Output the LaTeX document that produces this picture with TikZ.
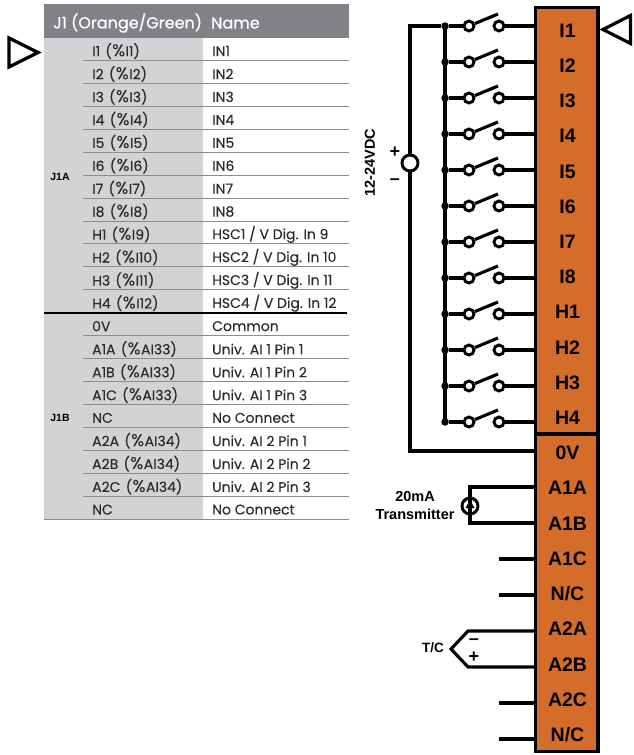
\documentclass[tikz,border=0pt]{standalone}
\usepackage{fontspec}
\setmainfont{Poppins}
\newfontfamily\termfont{Liberation Sans}
\newfontfamily\headfont[FakeBold=0.6]{Poppins}
\newfontfamily\cellfont[FakeBold=0.12]{Poppins}
\newcommand{\pcts}{\hspace{1.5pt}(\kern.5pt{\fontsize{17}{16}\selectfont\%}\kern.5pt}
\definecolor{termorange}{HTML}{D56D2A}
\definecolor{headgray}{HTML}{808285}
\definecolor{colgray}{HTML}{D1D3D4}
\definecolor{rowline}{HTML}{8A8C8E}
\definecolor{tabtext}{HTML}{2B2B2B}
\tikzset{
  wire/.style={line width=3.1pt,black},
  edge/.style={line width=3.2pt,black,line join=miter},
  tabcell/.style={font=\cellfont\fontsize{14}{16}\selectfont,text=tabtext,anchor=west,inner sep=0pt},
  headcell/.style={font=\headfont\fontsize{16}{18}\selectfont,text=white,anchor=west,inner sep=0pt},
  grouplabel/.style={font=\termfont\bfseries\fontsize{10.5}{12}\selectfont,inner sep=0pt},
  termlabel/.style={font=\termfont\bfseries\fontsize{19.5}{22}\selectfont,inner sep=0pt},
  sidelabel/.style={font=\termfont\bfseries\fontsize{14.5}{17}\selectfont,inner sep=0pt},
  signmark/.style={font=\termfont\bfseries\fontsize{18}{20}\selectfont,inner sep=0pt},
  contact/.style={circle,draw=black,line width=2.9pt,fill=white,minimum size=10pt,inner sep=0pt},
  srcsym/.style={circle,draw=black,line width=2.9pt,fill=white,minimum size=16pt,inner sep=0pt},
  jdot/.style={circle,fill=black,minimum size=7.5pt,inner sep=0pt},
}
\begin{document}
\begin{tikzpicture}[x=1pt,y=-1pt]
\useasboundingbox (0,0) rectangle (633,755);
% table
\fill[headgray] (44,4) rectangle (349,38);
\fill[colgray] (44,38) rectangle (203,519);
\node[headcell] (h1) at (53,23) {J1 (Orange/Green)};
\node[headcell] (h2) at (211,23) {Name};
\foreach \i/\a/\b in {1/I1 \pcts I1)/IN1,2/I2 \pcts I2)/IN2,3/I3 \pcts I3)/IN3,4/I4 \pcts I4)/IN4,5/I5 \pcts I5)/IN5,6/I6 \pcts I6)/IN6,7/I7 \pcts I7)/IN7,8/I8 \pcts I8)/IN8,9/H1 \pcts I9)/{HSC1 / V Dig. In 9},10/H2 \pcts I10)/{HSC2 / V Dig. In 10},11/H3 \pcts I11)/{HSC3 / V Dig. In 11},12/H4 \pcts I12)/{HSC4 / V Dig. In 12},13/0V/Common,14/A1A \pcts AI33)/Univ. AI 1 Pin 1,15/A1B \pcts AI33)/Univ. AI 1 Pin 2,16/A1C \pcts AI33)/Univ. AI 1 Pin 3,17/NC/No Connect,18/A2A \pcts AI34)/Univ. AI 2 Pin 1,19/A2B \pcts AI34)/Univ. AI 2 Pin 2,20/A2C \pcts AI34)/Univ. AI 2 Pin 3,21/NC/No Connect}{
  \pgfmathsetmacro{\ty}{51+22.93*(\i-1)}
  \pgfmathsetmacro{\ly}{60.5+22.93*(\i-1)}
  \node[tabcell] (ra\i) at (92,\ty) {\a};
  \node[tabcell] (rb\i) at (212,\ty) {\b};
  \ifnum\i=12\relax
    \draw[line width=1.8pt,black] (44,\ly) -- (347,\ly);
  \else\ifnum\i=21\relax
    \draw[line width=1pt,rowline] (44,\ly) -- (349,\ly);
  \else
    \draw[line width=1pt,rowline] (83,\ly) -- (349,\ly);
  \fi\fi
}
\node[grouplabel] (j1a) at (60,177) {J1A};
\node[grouplabel] (j1b) at (60,418) {J1B};
\coordinate (tl1) at (9,38); \coordinate (tl2) at (38,52.5); \coordinate (tl3) at (9,67);
\draw[edge] (tl1) -- (tl2) -- (tl3) -- cycle;
% terminal block
\node[draw=black,line width=3.2pt,fill=termorange,minimum width=62.5pt,minimum height=744.5pt,inner sep=0pt] (block) at (566.7,379.6) {};
\coordinate (dl) at (535,434); \coordinate (dr) at (598,434);
\draw[edge] (dl) -- (dr);
\coordinate (tr1) at (603,29.5); \coordinate (tr2) at (630.5,15.5); \coordinate (tr3) at (630.5,43.5);
\draw[edge] (tr1) -- (tr2) -- (tr3) -- cycle;
\foreach \k/\t in {0/I1,1/I2,2/I3,3/I4,4/I5,5/I6,6/I7,7/I8,8/H1,9/H2,10/H3,11/H4,12/0V,13/A1A,14/A1B,15/A1C,16/N\slash C,17/A2A,18/A2B,19/A2C,20/N\slash C}{
  \pgfmathsetmacro{\ly}{30.6+35.2*\k}
  \node[termlabel] (t\k) at (567.5,\ly) {\t};
}
% switches
\coordinate (busT) at (445,26);
\coordinate (busB) at (445,422);
\draw[wire] (busT) -- (busB);
\foreach \k in {0,...,11}{
  \pgfmathsetmacro{\wy}{26+36*\k}
  \pgfmathsetmacro{\ty}{\wy-12}
  \coordinate (e\k) at (535,\wy);
  \node[jdot] (d\k) at (445,\wy) {};
  \node[contact] (ca\k) at (469,\wy) {};
  \node[contact] (cb\k) at (499,\wy) {};
  \coordinate (lv\k) at (498,\ty);
  \draw[wire] (d\k) -- (ca\k);
  \draw[wire] (cb\k) -- (e\k);
  \draw[wire] (ca\k) -- (lv\k);
}
% supply
\coordinate (sup0) at (410,26);
\coordinate (sup1) at (410,451);
\coordinate (e0v) at (535,451);
\draw[wire] (d0) -- (sup0) -- (sup1) -- (e0v);
\node[srcsym] (src) at (410,163) {};
\node[sidelabel,rotate=90] (vlab) at (370,162.5) {12-24VDC};
\node[signmark] (plus) at (395,152) {+};
\node[signmark] (minus) at (395,182) {–};
% transmitter
\coordinate (ea) at (535,487); \coordinate (eb) at (535,523);
\coordinate (xa) at (470,487); \coordinate (xb) at (470,523);
\draw[wire] (ea) -- (xa) -- (xb) -- (eb);
\node[srcsym] (tx) at (470,506) {};
\draw[wire] (tx.south) -- (tx.north);
\fill[black] (470,500) -- (465.5,508) -- (474.5,508) -- cycle;
\node[sidelabel,align=center,font=\termfont\bfseries\fontsize{14.5}{18}\selectfont] (txl) at (415,505.5) {20mA\\Transmitter};
% stubs
\foreach \y/\n in {559/s1,595/s2,703/s3,739/s4}{
  \coordinate (\n a) at (499,\y); \coordinate (\n b) at (535,\y);
  \draw[wire] (\n a) -- (\n b);
}
% thermocouple
\coordinate (ca) at (535,631); \coordinate (cb) at (468,631); \coordinate (cc) at (451,649);
\coordinate (cd) at (468,667); \coordinate (ce) at (535,667);
\draw[wire,line join=miter] (ca) -- (cb) -- (cc) -- (cd) -- (ce);
\node[signmark] (tcm) at (474,642) {–};
\node[signmark] (tcp) at (474,657) {+};
\node[sidelabel,font=\termfont\bfseries\fontsize{13.5}{16}\selectfont] (tcl) at (433,648) {T/C};
\end{tikzpicture}
\end{document}
